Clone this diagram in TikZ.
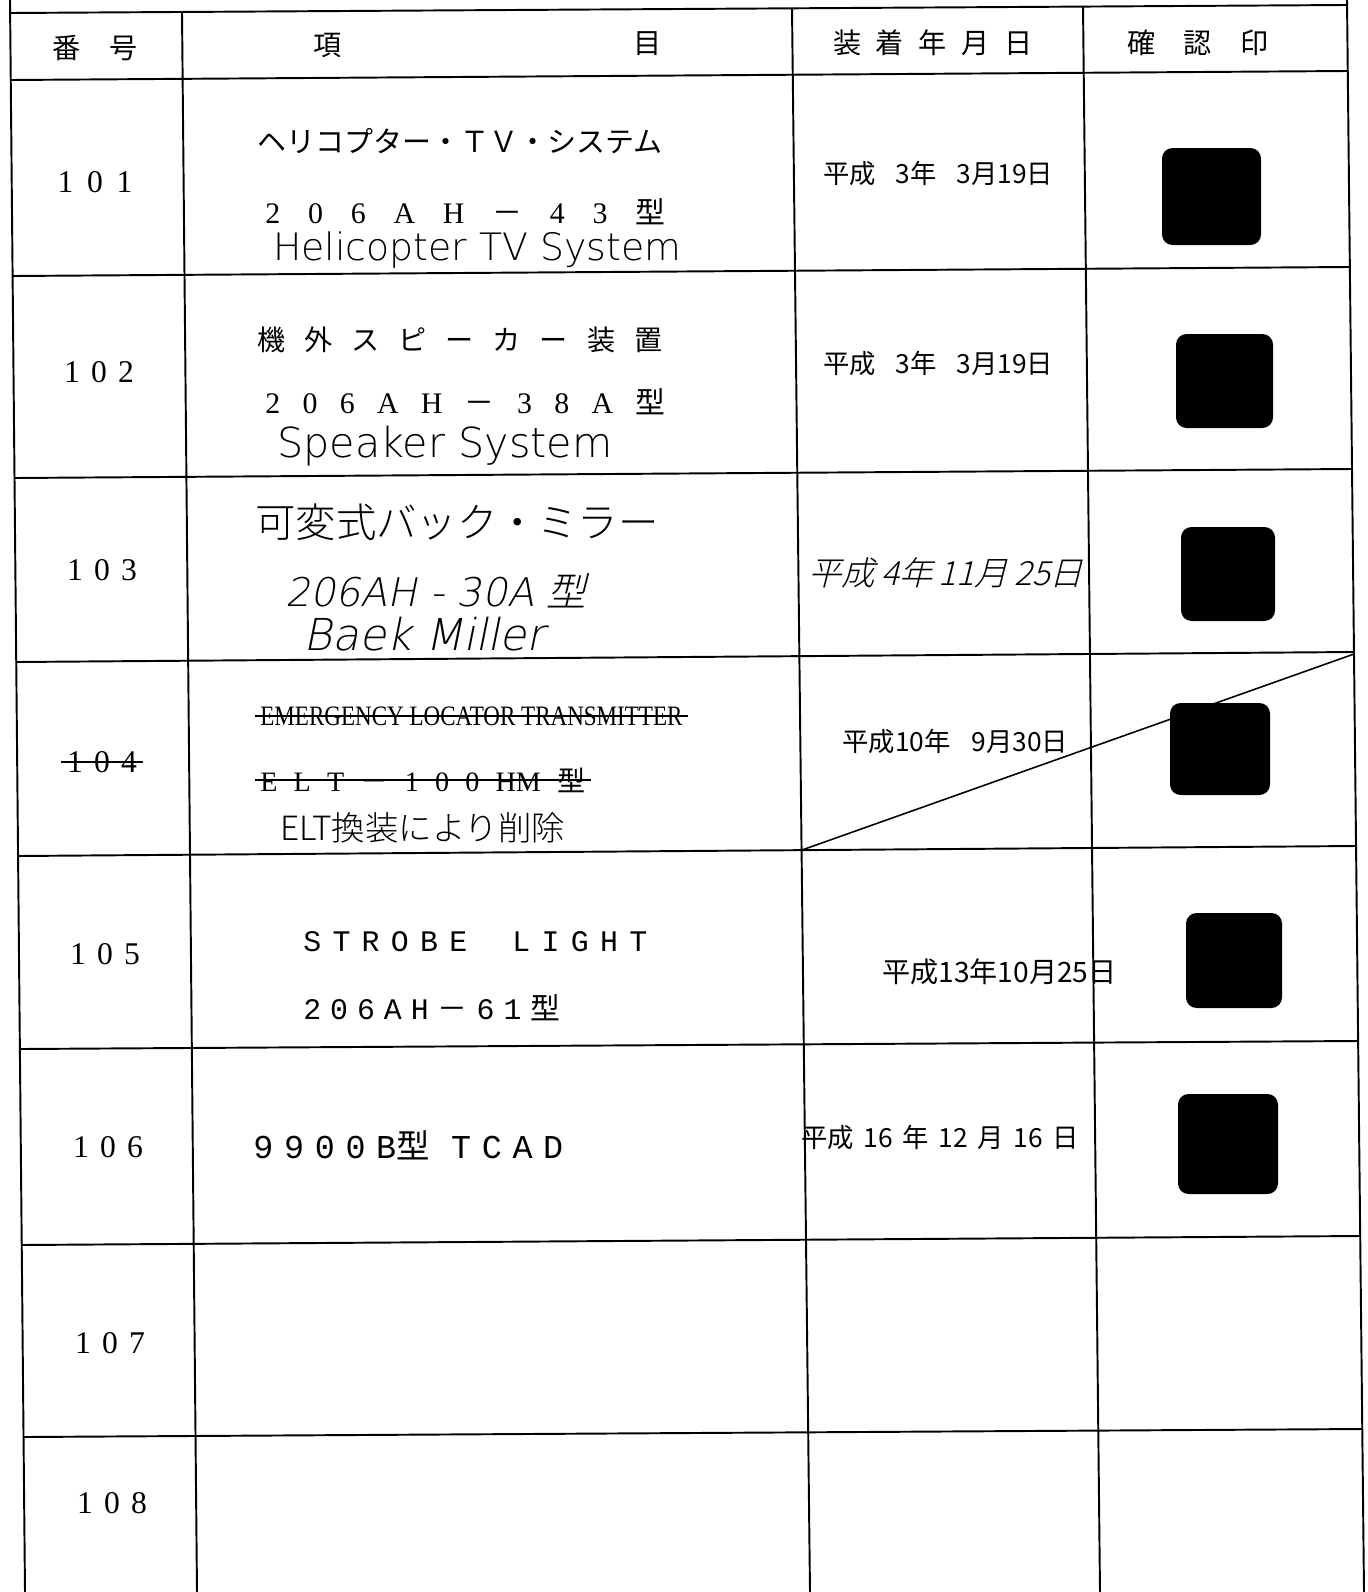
\documentclass[tikz,border=0pt]{standalone}
\usepackage{fontspec}
\usepackage{tikz}
\usetikzlibrary{positioning}
\setmainfont{Liberation Serif}
\newfontfamily\jp{Noto Sans CJK JP}
\IfFontExistsTF{Noto Sans CJK JP Light}
    {\newfontfamily\jphand{Noto Sans CJK JP Light}
     \newfontfamily\jpsl[FakeSlant=0.25]{Noto Sans CJK JP Light}}
    {\newfontfamily\jphand{Noto Sans CJK JP}
     \newfontfamily\jpsl[FakeSlant=0.25]{Noto Sans CJK JP}}
\IfFontExistsTF{DejaVu Sans ExtraLight}
    {\newfontfamily\hand{DejaVu Sans ExtraLight}
     \newfontfamily\handsl[FakeSlant=0.2]{DejaVu Sans ExtraLight}}
    {\newfontfamily\hand{Liberation Sans}
     \newfontfamily\handsl[FakeSlant=0.2]{Liberation Sans}}
\newfontfamily\tw[WordSpace=0.2]{Liberation Mono}
\newcommand{\spread}[2]{\makebox[#1][s]{#2}}
\newcommand{\fsz}[1]{\fontsize{#1}{#1}\selectfont}
\tikzstyle{rule}   = [line width=1.1pt]
\tikzstyle{strike} = [line width=0.9pt]
\tikzstyle{stamp}  = [fill=black, rounded corners=6pt]
\tikzstyle{item}   = [anchor=west, inner sep=0pt]
\tikzstyle{num}    = [inner sep=0pt, font=\fsz{18}]
\tikzset{every node/.style={align=center}}

\begin{document}
\begin{tikzpicture}[x=0.02cm, y=-0.02cm]
    \useasboundingbox (0,0) rectangle (1368,1592);

    \foreach \yl/\yr in {13/5, 80/71, 276/267, 478/469, 662/652, 856/846, 1049/1041, 1245/1236, 1437/1429}
        \draw [rule] ({10+0.0094*\yl},\yl) -- ({1347+0.0107*\yr},\yr);
    \foreach \xt/\yt/\xb in {10/0/25, 182/12/197, 792/8/810, 1083/6/1100, 1347/0/1364}
        \draw [rule] (\xt,\yt) -- (\xb,1592);

    \node (hnum)  at (95,48)   [font=\jp\fsz{16}] {番　号};
    \node (hitm)  at (328,46)  [font=\jp\fsz{16}] {項};
    \node (hitm2) at (648,44)  [font=\jp\fsz{16}] {目};
    \node (hdate) at (933,43)  [font=\jp\fsz{16}] {\spread{4cm}{装 着 年 月 日}};
    \node (hseal) at (1198,43) [font=\jp\fsz{16}] {\spread{2.82cm}{確 認 印}};

    \node (n101) at (95,182)  [num] {\spread{1.5cm}{1 0 1}};
    \node (n102) at (99,372)  [num] {\spread{1.4cm}{1 0 2}};
    \node (n103) at (102,570) [num] {\spread{1.4cm}{1 0 3}};
    \node (n104) at (102,762) [num] {\spread{1.4cm}{1 0 4}};
    \node (n105) at (105,954) [num] {\spread{1.4cm}{1 0 5}};
    \node (n106) at (108,1147) [num] {\spread{1.4cm}{1 0 6}};
    \node (n107) at (110,1343) [num] {\spread{1.4cm}{1 0 7}};
    \node (n108) at (112,1503) [num] {\spread{1.4cm}{1 0 8}};

    \node (t101a) at (257,141) [item, font=\jp\fsz{16.5}] {ヘリコプター・ＴＶ・システム};
    \node (t101b) at (265,212) [item, font=\fsz{17}] {\spread{8cm}{2 0 6 A H {\jp －} 4 3 {\jp 型}}};
    \node (t101c) at (273,250) [item, font=\hand\fsz{21.5}] {Helicopter TV System};
    \node (d101)  at (823,174) [item, font=\jp\fsz{15}] {\spread{4.6cm}{平成 3年 3月19日}};
    \fill [stamp] (1162,148) rectangle (1261,245);

    \node (t102a) at (257,340) [item, font=\jp\fsz{16}] {\spread{8.1cm}{機 外 ス ピ ー カ ー 装 置}};
    \node (t102b) at (265,402) [item, font=\fsz{17}] {\spread{8cm}{2 0 6 A H {\jp －} 3 8 A {\jp 型}}};
    \node (t102c) at (277,446) [item, font=\hand\fsz{23.5}] {Speaker System};
    \node (d102)  at (823,364) [item, font=\jp\fsz{15}] {\spread{4.6cm}{平成 3年 3月19日}};
    \fill [stamp] (1176,334) rectangle (1273,428);

    \node (t103a) at (255,522) [item, font=\jphand\fsz{23}] {可変式バック・ミラー};
    \node (t103b) at (285,591) [item, font=\handsl\fsz{22.5}] {206AH - 30A {\jpsl 型}};
    \node (t103c) at (303,634) [item, font=\handsl\fsz{25}] {Baek Miller};
    \node (d103)  at (808,573) [item, font=\jpsl\fsz{19}] {\spread{5.5cm}{平成 4年 11月 25日}};
    \fill [stamp] (1181,527) rectangle (1275,621);

    \node (t104a) at (260,716) [item, font=\fsz{16}] {\scalebox{0.82}[1]{EMERGENCY LOCATOR TRANSMITTER}};
    \node (t104b) at (260,780) [item, font=\fsz{16}] {\spread{6.5cm}{E L T {\jp －} 1 0 0 HM {\jp 型}}};
    \node (t104c) at (280,828) [item, font=\jphand\fsz{19}] {ELT換装により削除};
    \node (d104)  at (842,742) [item, font=\jp\fsz{15}] {\spread{4.52cm}{平成10年 9月30日}};
    \draw [strike] ([xshift=-3pt]n104.west)  -- ([xshift=3pt]n104.east);
    \draw [strike] ([xshift=-3pt]t104a.west) -- ([xshift=3pt]t104a.east);
    \draw [strike] ([xshift=-3pt]t104b.west) -- ([xshift=3pt]t104b.east);
    \coordinate (cut1) at (802,850);
    \coordinate (cut2) at (1354,654);
    \draw [line width=0.9pt] (cut1) -- (cut2);
    \fill [stamp] (1170,703) rectangle (1270,795);

    \node (t105a) at (303,942)  [item, font=\tw\fsz{17}] {\spread{6.88cm}{S T R O B E {} {} {} L I G H T}};
    \node (t105b) at (303,1008) [item, font=\tw\fsz{17}] {\spread{5.14cm}{2 0 6 A H {\jp －} 6 1 {\jp 型}}};
    \node (d105)  at (882,972)  [item, font=\jp\fsz{16}] {平成13年10月25日};
    \fill [stamp] (1186,913) rectangle (1282,1008);

    \node (t106) at (253,1145) [item, font=\tw\fsz{19}] {\spread{6.2cm}{9 9 0 0 B{\jp 型} {} T C A D}};
    \node (d106) at (801,1138) [item, font=\jp\fsz{15}] {\spread{5.56cm}{平成 16 年 12 月 16 日}};
    \fill [stamp] (1178,1094) rectangle (1278,1194);
\end{tikzpicture}
\end{document}
